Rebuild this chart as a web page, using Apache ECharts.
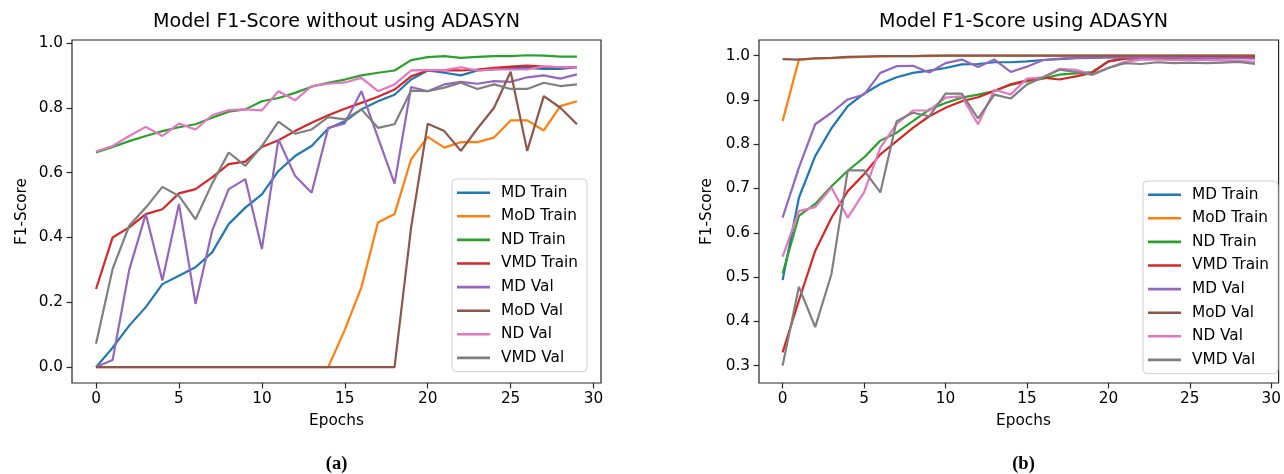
<!DOCTYPE html>
<html>
<head>
<meta charset="utf-8">
<script src="https://cdn.jsdelivr.net/npm/echarts@6/dist/echarts.min.js"></script>
<style>
html,body{margin:0;padding:0;background:#fff;}
#chart{width:1284px;height:474px;}
</style>
</head>
<body>
<div id="chart"></div>
<script>
// ---------- data ----------
const epochs = [0,1,2,3,4,5,6,7,8,9,10,11,12,13,14,15,16,17,18,19,20,21,22,23,24,25,26,27,28,29];
const seriesNames = ['MD Train','MoD Train','ND Train','VMD Train','MD Val','MoD Val','ND Val','VMD Val'];
const xTicks = [0,5,10,15,20,25,30];
const yTicksA = [0.0,0.2,0.4,0.6,0.8,1.0];
const yTicksB = [0.3,0.4,0.5,0.6,0.7,0.8,0.9,1.0];

// (a) without ADASYN
const mdTrainA  = [0.0,0.06,0.128,0.185,0.256,0.282,0.308,0.354,0.441,0.492,0.533,0.605,0.651,0.682,0.736,0.758,0.795,0.82,0.84,0.887,0.915,0.908,0.9,0.915,0.918,0.923,0.923,0.92,0.92,0.925];
const modTrainA = [0,0,0,0,0,0,0,0,0,0,0,0,0,0,0,0.115,0.246,0.446,0.472,0.641,0.71,0.677,0.694,0.694,0.708,0.761,0.761,0.73,0.805,0.82];
const ndTrainA  = [0.662,0.679,0.697,0.713,0.728,0.74,0.749,0.769,0.788,0.795,0.82,0.83,0.846,0.865,0.877,0.887,0.9,0.908,0.915,0.947,0.956,0.959,0.954,0.957,0.959,0.959,0.962,0.961,0.958,0.958];
const vmdTrainA = [0.241,0.40,0.431,0.472,0.487,0.536,0.549,0.585,0.626,0.634,0.679,0.70,0.728,0.754,0.777,0.797,0.815,0.834,0.856,0.897,0.915,0.916,0.915,0.918,0.923,0.927,0.93,0.927,0.925,0.925];
const mdValA    = [0.0,0.022,0.30,0.472,0.267,0.503,0.195,0.42,0.549,0.58,0.364,0.703,0.59,0.538,0.738,0.752,0.851,0.708,0.566,0.864,0.851,0.872,0.88,0.874,0.882,0.88,0.894,0.90,0.89,0.903];
const modValA   = [0,0,0,0,0,0,0,0,0,0,0,0,0,0,0,0,0,0,0,0.431,0.751,0.728,0.667,0.736,0.80,0.911,0.667,0.836,0.80,0.749];
const ndValA    = [0.665,0.682,0.713,0.741,0.713,0.751,0.733,0.777,0.793,0.795,0.792,0.851,0.823,0.867,0.874,0.878,0.892,0.851,0.872,0.915,0.916,0.916,0.925,0.915,0.918,0.918,0.918,0.928,0.925,0.925];
const vmdValA   = [0.072,0.303,0.436,0.492,0.556,0.528,0.456,0.566,0.662,0.621,0.682,0.757,0.72,0.733,0.771,0.764,0.795,0.738,0.749,0.853,0.851,0.862,0.877,0.858,0.872,0.858,0.858,0.877,0.867,0.872];

// (b) using ADASYN
const mdTrainB  = [0.493,0.679,0.773,0.836,0.886,0.914,0.936,0.951,0.961,0.966,0.972,0.98,0.981,0.985,0.985,0.987,0.99,0.992,0.994,0.995,0.996,0.996,0.997,0.997,0.997,0.998,0.998,0.998,0.998,0.998];
const modTrainB = [0.852,0.991,0.993,0.994,0.996,0.997,0.998,0.999,0.999,0.999,1.0,1.0,1.0,1.0,1.0,1.0,1.0,1.0,1.0,1.0,1.0,1.0,1.0,1.0,1.0,1.0,1.0,1.0,1.0,1.0];
const ndTrainB  = [0.508,0.638,0.665,0.705,0.74,0.77,0.808,0.826,0.852,0.878,0.893,0.905,0.912,0.92,0.934,0.942,0.948,0.957,0.96,0.963,0.987,0.993,0.994,0.995,0.995,0.996,0.996,0.996,0.997,0.997];
const vmdTrainB = [0.33,0.447,0.559,0.634,0.694,0.732,0.777,0.807,0.837,0.863,0.882,0.897,0.906,0.92,0.935,0.944,0.95,0.946,0.953,0.961,0.987,0.993,0.994,0.995,0.996,0.996,0.997,0.997,0.997,0.997];
const mdValB    = [0.634,0.747,0.845,0.871,0.901,0.912,0.961,0.976,0.977,0.962,0.983,0.991,0.974,0.991,0.963,0.975,0.99,0.993,0.995,0.996,0.996,0.996,0.995,0.996,0.996,0.995,0.995,0.994,0.994,0.993];
const modValB   = [0.992,0.991,0.994,0.995,0.997,0.998,0.999,0.999,0.999,1.0,1.0,1.0,1.0,1.0,1.0,1.0,1.0,1.0,1.0,1.0,1.0,1.0,1.0,1.0,1.0,1.0,1.0,1.0,1.0,1.0];
const ndValB    = [0.546,0.649,0.658,0.702,0.634,0.691,0.792,0.846,0.876,0.876,0.905,0.908,0.845,0.923,0.912,0.948,0.951,0.97,0.968,0.957,0.972,0.986,0.991,0.991,0.99,0.99,0.99,0.989,0.988,0.986];
const vmdValB   = [0.30,0.478,0.387,0.507,0.741,0.741,0.691,0.852,0.871,0.863,0.914,0.914,0.858,0.912,0.903,0.935,0.951,0.968,0.963,0.957,0.972,0.983,0.981,0.985,0.983,0.984,0.983,0.984,0.986,0.981];

const titleA = 'Model F1-Score without using ADASYN';
const titleB = 'Model F1-Score using ADASYN';
const xName = 'Epochs';
const yName = 'F1-Score';

// ---------- styling ----------
const colors = ['#1f77b4','#ff7f0e','#2ca02c','#d62728','#9467bd','#8c564b','#e377c2','#7f7f7f'];
const FONT = 'DejaVu Sans';
const TICK_FS = 15.3;
const spine = '#262626';

const groupA = [mdTrainA, modTrainA, ndTrainA, vmdTrainA, mdValA, modValA, ndValA, vmdValA];
const groupB = [mdTrainB, modTrainB, ndTrainB, vmdTrainB, mdValB, modValB, ndValB, vmdValB];

function mkSeries(group, idx) {
  return group.map((vals, i) => ({
    name: seriesNames[i],
    type: 'line',
    xAxisIndex: idx, yAxisIndex: idx,
    data: epochs.map((e, k) => [e, vals[k]]),
    showSymbol: false, symbol: 'none',
    lineStyle: { width: 2.2, color: colors[i] },
    itemStyle: { color: colors[i] },
    emphasis: { disabled: true },
    animation: false
  }));
}

function mkX(idx) {
  return {
    type: 'value', gridIndex: idx, min: -1.45, max: 30.45, position: 'bottom',
    splitLine: { show: false },
    axisLine: { show: false, onZero: false },
    axisTick: { show: true, length: 5.4, inside: false, customValues: xTicks, lineStyle: { color: spine, width: 1.2 } },
    axisLabel: { customValues: xTicks, color: '#000', fontFamily: FONT, fontSize: TICK_FS, margin: 9 },
  };
}
function mkY(idx, mn, mx, ticks) {
  return {
    type: 'value', gridIndex: idx, min: mn, max: mx, position: 'left',
    splitLine: { show: false },
    axisLine: { show: false, onZero: false },
    axisTick: { show: true, length: 5.4, customValues: ticks, lineStyle: { color: spine, width: 1.2 } },
    axisLabel: { customValues: ticks, color: '#000', fontFamily: FONT, fontSize: TICK_FS, margin: 9,
      formatter: v => v.toFixed(1) },
  };
}
function mkLegend(left, top) {
  return {
    data: seriesNames, orient: 'vertical', left: left, top: top,
    icon: 'rect', itemWidth: 33, itemHeight: 2.6, itemGap: 6.2,
    padding: [5, 9, 5, 5],
    backgroundColor: 'rgba(255,255,255,0.8)', borderColor: '#d0d0d0', borderWidth: 1, borderRadius: 4,
    textStyle: { fontFamily: FONT, fontSize: TICK_FS, color: '#000', padding: [0, 0, 0, 6], lineHeight: 17.4 },
    selectedMode: false
  };
}
function txt(x, y, text, size) {
  return { type: 'text', x: x, y: y, style: {
    text: text, fontFamily: FONT, fontSize: size, fill: '#000', align: 'center', verticalAlign: 'middle'
  } };
}
function capText(x, y, text) {
  return { type: 'text', x: x, y: y, style: {
    text: text, fontFamily: 'Liberation Serif', fontSize: 18.5, fontWeight: 'bold', fill: '#000', align: 'center', verticalAlign: 'middle'
  } };
}

const chart = echarts.init(document.getElementById('chart'), null, { renderer: 'canvas' });
chart.setOption({
  animation: false,
  backgroundColor: '#fff',
  grid: [
    { left: 72, top: 40, width: 529, height: 343, show: true, borderColor: spine, borderWidth: 1.2, backgroundColor: 'transparent' },
    { left: 759, top: 40, width: 529, height: 343, show: true, borderColor: spine, borderWidth: 1.2, backgroundColor: 'transparent' }
  ],
  xAxis: [mkX(0), mkX(1)],
  yAxis: [mkY(0, -0.049, 1.009, yTicksA), mkY(1, 0.2608, 1.0352, yTicksB)],
  legend: [mkLegend(452, 179), mkLegend(1143, 181)],
  series: [...mkSeries(groupA, 0), ...mkSeries(groupB, 1)],
  graphic: [
    txt(336.5, 22, titleA, 19.1),
    txt(1023.5, 22, titleB, 19.1),
    txt(336.5, 421, xName, TICK_FS),
    txt(1023.5, 421, xName, TICK_FS),
    { type: 'text', x: 22, y: 211.5, rotation: Math.PI / 2, style: { text: yName, fontFamily: FONT, fontSize: TICK_FS, fill: '#000', align: 'center', verticalAlign: 'middle' } },
    { type: 'text', x: 707, y: 211.5, rotation: Math.PI / 2, style: { text: yName, fontFamily: FONT, fontSize: TICK_FS, fill: '#000', align: 'center', verticalAlign: 'middle' } },
    capText(336.5, 464, '(a)'),
    capText(1023.5, 464, '(b)')
  ]
});
</script>
</body>
</html>
